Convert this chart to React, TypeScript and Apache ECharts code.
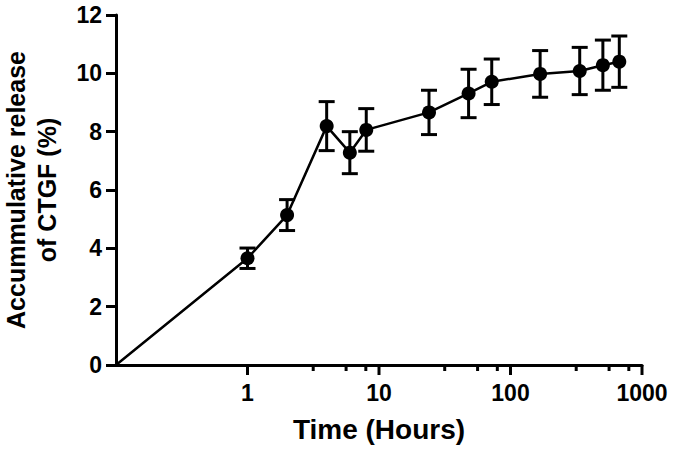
import React, { useEffect, useRef } from "react";
import * as echarts from "echarts";

// Data (time in hours, cumulative release in %)
const times = [0.1, 1, 2, 4, 6, 8, 24, 48, 72, 168, 336, 504, 672];
const release = [0, 3.66, 5.14, 8.19, 7.28, 8.06, 8.66, 9.31, 9.71, 9.98, 10.08, 10.28, 10.4];
const errors = [0, 0.35, 0.53, 0.84, 0.72, 0.73, 0.76, 0.83, 0.78, 0.8, 0.81, 0.86, 0.88];

const majorTicks = [1, 10, 100, 1000];
const minorTicks = [3.16, 5.62, 7.94, 31.6, 56.2, 79.4, 316, 562, 794];

const FONT = "'Liberation Sans', Arial, Helvetica, sans-serif";

export default function App() {
  const ref = useRef<HTMLDivElement>(null);

  useEffect(() => {
    if (!ref.current) return;
    const chart = echarts.init(ref.current, undefined, { renderer: "svg" });

    const tickSeries = (vals: number[], len: number) => ({
      type: "custom",
      coordinateSystem: "cartesian2d",
      clip: false,
      silent: true,
      z: 5,
      data: vals.map((v) => [v, 0]),
      renderItem: (_p: any, api: any) => {
        const p = api.coord([api.value(0), api.value(1)]);
        return {
          type: "line",
          shape: { x1: p[0], y1: p[1], x2: p[0], y2: p[1] + len },
          style: { stroke: "#000", lineWidth: 3 },
        };
      },
    });

    const errData = times
      .map((t, i) => [t, release[i], errors[i]])
      .filter((d) => d[2] > 0);

    chart.setOption({
      animation: false,
      backgroundColor: "#fff",
      textStyle: { fontFamily: FONT },
      grid: { left: 116, right: 35, top: 15, bottom: 88, outerBoundsMode: "none", containLabel: false },
      xAxis: {
        type: "log",
        logBase: 10,
        min: 0.1,
        max: 1000,
        name: "Time (Hours)",
        nameLocation: "middle",
        nameGap: 50,
        nameTextStyle: { fontSize: 28, fontWeight: "bold", color: "#000", fontFamily: FONT },
        axisLine: { show: true, lineStyle: { color: "#000", width: 3 } },
        axisTick: { show: false },
        splitLine: { show: false },
        minorTick: { show: false },
        axisLabel: {
          fontSize: 23,
          fontWeight: "bold",
          color: "#000",
          fontFamily: FONT,
          margin: 16,
          formatter: (v: number) => (v >= 1 ? String(Math.round(v)) : ""),
        },
      },
      yAxis: {
        type: "value",
        min: 0,
        max: 12,
        interval: 2,
        name: "Accummulative release\nof CTGF (%)",
        nameLocation: "middle",
        nameRotate: 90,
        nameGap: 54,
        nameTextStyle: {
          fontSize: 25,
          fontWeight: "bold",
          color: "#000",
          fontFamily: FONT,
          lineHeight: 31,
        },
        axisLine: { show: true, lineStyle: { color: "#000", width: 3 } },
        axisTick: { show: true, length: 10, lineStyle: { color: "#000", width: 3 } },
        splitLine: { show: false },
        axisLabel: {
          fontSize: 23,
          fontWeight: "bold",
          color: "#000",
          fontFamily: FONT,
          margin: 14,
        },
      },
      series: [
        {
          type: "line",
          data: times.map((t, i) => [t, release[i]]),
          symbol: "circle",
          symbolSize: (_v: any, params: any) => (params.dataIndex === 0 ? 0 : 14),
          showAllSymbol: true,
          lineStyle: { color: "#000", width: 2.5 },
          itemStyle: { color: "#000" },
          z: 3,
        },
        {
          type: "custom",
          coordinateSystem: "cartesian2d",
          clip: false,
          z: 4,
          data: errData,
          renderItem: (_p: any, api: any) => {
            const t = api.value(0);
            const m = api.value(1);
            const e = api.value(2);
            const top = api.coord([t, m + e]);
            const bot = api.coord([t, m - e]);
            const hw = 8;
            const style = { stroke: "#000", lineWidth: 3 };
            return {
              type: "group",
              children: [
                { type: "line", shape: { x1: top[0], y1: top[1], x2: bot[0], y2: bot[1] }, style },
                { type: "line", shape: { x1: top[0] - hw, y1: top[1], x2: top[0] + hw, y2: top[1] }, style },
                { type: "line", shape: { x1: bot[0] - hw, y1: bot[1], x2: bot[0] + hw, y2: bot[1] }, style },
              ],
            };
          },
        },
        tickSeries(majorTicks, 10),
        tickSeries(minorTicks, 6),
      ],
    });

    return () => chart.dispose();
  }, []);

  return (
    <div
      ref={ref}
      style={{ position: "fixed", left: 0, top: 0, width: 677, height: 453, background: "#fff" }}
    />
  );
}
